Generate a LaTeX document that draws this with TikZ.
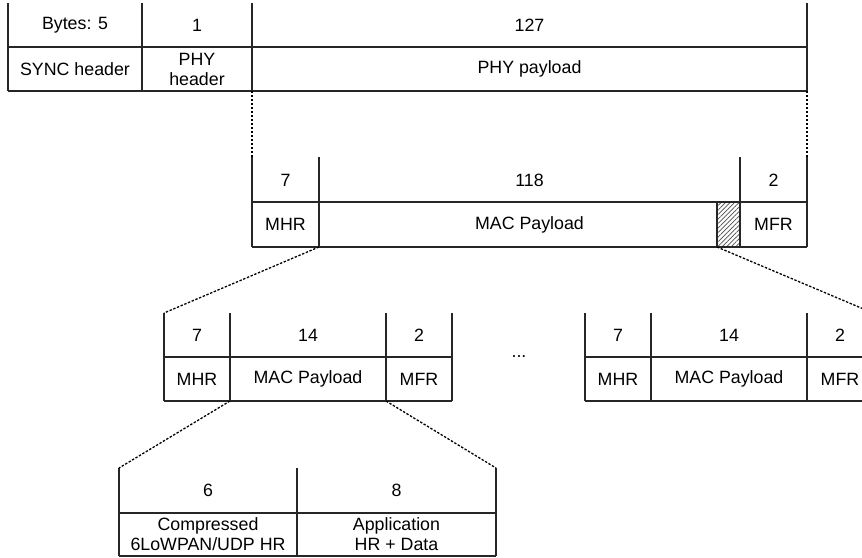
\documentclass[tikz,border=0pt]{standalone}
\usepackage{fontspec}
\setmainfont{Liberation Sans}
\usetikzlibrary{patterns.meta}
\begin{document}
\begin{tikzpicture}[x=1pt,y=-1pt,
  grid/.style={line width=1.2pt,draw=black!85},
  conn/.style={line width=1.3pt,draw=black,dash pattern=on 2.4pt off 1.6pt},
  lbl/.style={inner sep=0pt,align=center,font=\fontsize{17.8}{20}\selectfont},
  hatch/.style={line width=1.2pt,draw=black!85,pattern={Lines[angle=45,distance=3.2pt,line width=0.7pt]},pattern color=black!70}]
\useasboundingbox (0,0) rectangle (862,557);
% ---------- top table (PHY frame)
\draw[grid] (8,3) -- (8,91) (142,3) -- (142,91) (252,3) -- (252,91) (807,3) -- (807,91)
  (8,47) -- (807,47) (8,91) -- (807,91);
\node[lbl] (tb1) at (75,25) {Bytes: 5};
\node[lbl] (tb2) at (197,25) {1};
\node[lbl] (tb3) at (529.5,25) {127};
\node[lbl] (tsync) at (75,69) {SYNC header};
\node[lbl] (tphy) at (197,69) {PHY\\header};
\node[lbl] (tpay) at (529.5,69) {PHY payload};
\coordinate (tA) at (252,91);
\coordinate (tB) at (807,91);
% ---------- middle table (MAC frame)
\draw[hatch] (717,202) rectangle (740,247);
\draw[grid] (252,157) -- (252,247) (319,157) -- (319,247) (740,157) -- (740,247) (807,157) -- (807,247)
  (252,202) -- (807,202) (252,247) -- (807,247);
\node[lbl] (m1) at (285.5,180) {7};
\node[lbl] (m2) at (529.5,180) {118};
\node[lbl] (m3) at (773.5,180) {2};
\node[lbl] (mmhr) at (285.5,224.5) {MHR};
\node[lbl] (mpay) at (529.5,224.5) {MAC Payload};
\node[lbl] (mmfr) at (773.5,224.5) {MFR};
\coordinate (mA) at (252,157);
\coordinate (mB) at (807,157);
\coordinate (mC) at (319,247);
\coordinate (mD) at (717,247);
% ---------- left fragment
\draw[grid] (164,313) -- (164,401) (230,313) -- (230,401) (386,313) -- (386,401) (452,313) -- (452,401)
  (164,357) -- (452,357) (164,401) -- (452,401);
\node[lbl] (l1) at (197,335) {7};
\node[lbl] (l2) at (308,335) {14};
\node[lbl] (l3) at (419,335) {2};
\node[lbl] (lmhr) at (197,379) {MHR};
\node[lbl] (lpay) at (308,379) {MAC Payload};
\node[lbl] (lmfr) at (419,379) {MFR};
\coordinate (lA) at (164,313);
\coordinate (lB) at (230,401);
\coordinate (lC) at (386,401);
% ---------- right fragment
\draw[grid] (585,313) -- (585,401) (651,313) -- (651,401) (807,313) -- (807,401) (873,313) -- (873,401)
  (585,357) -- (873,357) (585,401) -- (873,401);
\node[lbl] (r1) at (618,335) {7};
\node[lbl] (r2) at (729,335) {14};
\node[lbl] (r3) at (840,335) {2};
\node[lbl] (rmhr) at (618,379) {MHR};
\node[lbl] (rpay) at (729,379) {MAC Payload};
\node[lbl] (rmfr) at (840,379) {MFR};
\coordinate (rA) at (873,313);
\node[lbl] (dots) at (519,357) {...};
% ---------- bottom table (payload)
\draw[grid] (119,468) -- (119,556) (297,468) -- (297,556) (496,468) -- (496,556)
  (119,513) -- (496,513) (119,556) -- (496,556);
\node[lbl] (b1) at (208,490.5) {6};
\node[lbl] (b2) at (396.5,490.5) {8};
\node[lbl] (bcomp) at (208,534.5) {Compressed\\6LoWPAN/UDP HR};
\node[lbl] (bapp) at (396.5,534.5) {Application\\HR + Data};
\coordinate (bA) at (119,468);
\coordinate (bB) at (496,468);
% ---------- dotted connectors
\draw[conn] (tA) -- (mA);
\draw[conn] (tB) -- (mB);
\draw[conn] (mC) -- (lA);
\draw[conn] (mD) -- (rA);
\draw[conn] (lB) -- (bA);
\draw[conn] (lC) -- (bB);
\end{tikzpicture}
\end{document}
